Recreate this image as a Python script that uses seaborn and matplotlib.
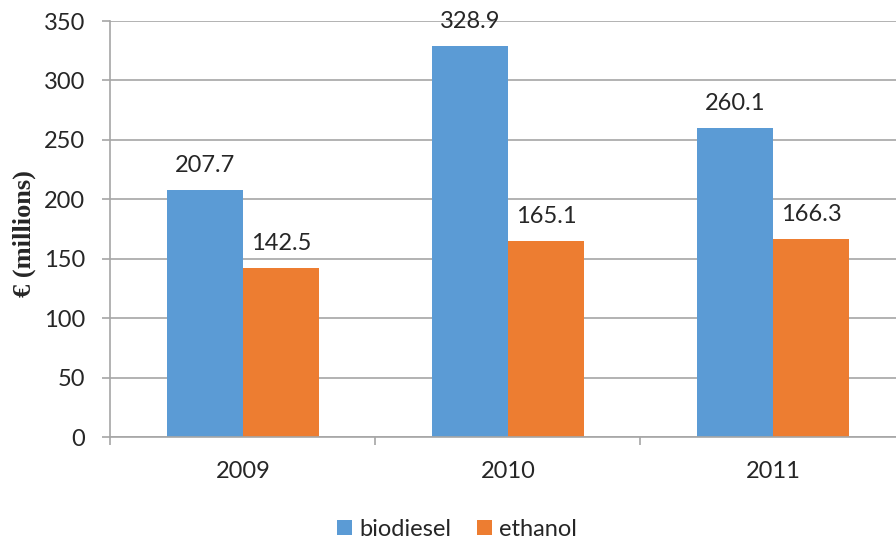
import matplotlib
matplotlib.use("Agg")
import matplotlib.pyplot as plt
import seaborn as sns
import pandas as pd
import numpy as np

years = ["2009", "2010", "2011"]
series = ["biodiesel", "ethanol"]
biodiesel = [207.7, 328.9, 260.1]
ethanol = [142.5, 165.1, 166.3]
colors = ["#5B9BD5", "#ED7D31"]
y_ticks = [0, 50, 100, 150, 200, 250, 300, 350]

df = pd.DataFrame({
    "year": years * 2,
    "fuel": [series[0]] * 3 + [series[1]] * 3,
    "value": biodiesel + ethanol,
})

sns.set_theme(style="white")
plt.rcParams["font.family"] = ["Lato", "DejaVu Sans"]

FS = 17

fig = plt.figure(figsize=(8.96, 5.4), dpi=100)
ax = fig.add_axes([0.1233, 0.1907, 0.8873, 0.7704])

sns.barplot(data=df, x="year", y="value", hue="fuel", palette=colors,
            width=0.574, gap=0, linewidth=0, saturation=1, ax=ax, legend=False)

ax.set_ylim(0, 350)
ax.set_xlim(-0.5, 2.5)
ax.set_yticks(y_ticks)
ax.set_yticklabels([str(v) for v in y_ticks], fontsize=FS)
ax.yaxis.grid(True, color="#A6A6A6", linewidth=1.2)
ax.set_axisbelow(True)

ax.set_xticks([-0.5, 0.5, 1.5, 2.5])
ax.set_xticklabels([])
ax.set_xticks([0, 1, 2], minor=True)
ax.set_xticklabels(years, minor=True, fontsize=FS)
ax.tick_params(axis="x", which="major", length=6, width=1.2, color="#A6A6A6", direction="out", bottom=True)
ax.tick_params(axis="x", which="minor", length=0, pad=17)
ax.tick_params(axis="y", length=6, width=1.2, color="#A6A6A6", direction="out", left=True, pad=12)

for s in ["top", "right"]:
    ax.spines[s].set_visible(False)
for s in ["left", "bottom"]:
    ax.spines[s].set_color("#A6A6A6")
    ax.spines[s].set_linewidth(1.2)

ax.set_xlabel("")
ax.set_ylabel("€ (millions)", family=["Liberation Serif", "DejaVu Serif"],
              fontweight="bold", fontsize=19, va="center")
ax.yaxis.set_label_coords(-0.1088, 0.49)

for cont in ax.containers:
    for bar in cont:
        h = bar.get_height()
        ax.annotate(f"{h:.1f}", (bar.get_x() + bar.get_width() / 2, h),
                    xytext=(0, 10), textcoords="offset points",
                    ha="center", va="bottom", fontsize=FS)

handles = [plt.Rectangle((0, 0), 1, 1, color=c, linewidth=0) for c in colors]
fig.legend(handles, series, loc="center", bbox_to_anchor=(0.510, 0.020), ncol=2,
           frameon=False, fontsize=FS, handlelength=0.64, handleheight=0.64,
           handletextpad=0.3, columnspacing=1.1, borderpad=0)

fig.savefig("out.png", dpi=100)
